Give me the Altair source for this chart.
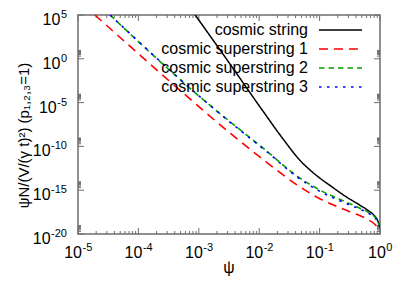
import altair as alt
import pandas as pd

# ---------------- data (log10 units) ----------------
series_names = ["cosmic string", "cosmic superstring 1",
                "cosmic superstring 2", "cosmic superstring 3"]

black_lpsi = [-3.06, -2.53, -1.95, -1.6, -1.33, -1.15, -0.99, -0.83, -0.55, -0.3, -0.2, -0.1, -0.05, 0.0]
black_lval = [5.0, -0.14, -5.85, -9.2, -11.55, -12.75, -13.65, -14.45, -15.8, -16.85, -17.3, -17.85, -18.3, -19.2]

red_lpsi = [-4.72, -3.26, -2.48, -1.99, -1.33, -0.99, -0.73, -0.5, -0.3, -0.2, -0.1, -0.05, 0.0]
red_lval = [5.0, -3.9, -8.5, -11.2, -14.6, -16.0, -16.8, -17.45, -18.0, -18.35, -18.8, -19.15, -19.7]

green_lpsi = [-4.47, -2.86, -2.48, -1.90, -1.33, -0.99, -0.53, -0.3, -0.2, -0.1, -0.05, 0.0]
green_lval = [5.0, -5.05, -7.2, -10.4, -13.6, -15.0, -16.45, -17.15, -17.5, -17.95, -18.4, -19.2]

blue_lpsi = [-4.47, -2.86, -2.48, -1.90, -1.33, -0.99, -0.53, -0.3, -0.2, -0.1, -0.05, 0.0]
blue_lval = [5.0, -5.05, -7.25, -10.45, -13.7, -15.15, -16.6, -17.25, -17.6, -18.05, -18.45, -19.25]

x_tick_exps = ["-5", "-4", "-3", "-2", "-1", "0"]
y_tick_exps = ["-20", "-15", "-10", "-5", "0", "5"]

x_title = "ψ"
y_title = "ψN/(V/(γ t)²) (p₁,₂,₃=1)"

# ---------------- styling ----------------
W, H = 302, 219
FONT = "Liberation Sans"
GRAY = "#6e6e6e"
colors = ["#000000", "#ff0000", "#00a000", "#0000ff"]
dashes = [[1, 0], [9, 6], [5.5, 4], [2.5, 5.5]]
widths = [1.5, 1.6, 1.6, 1.6]

xs = alt.Scale(type="log", domain=[1e-5, 1], nice=False)
ys = alt.Scale(type="log", domain=[1e-20, 1e5], nice=False)

layers = []

# ---------------- tick marks (inward, mirrored) ----------------
x_major = [10.0 ** int(e) for e in x_tick_exps]
x_minor = [m * 10.0 ** k for k in range(-5, 0) for m in range(2, 10)]
y_major = [10.0 ** int(e) for e in y_tick_exps]
y_minor = [m * 10.0 ** int(e) for e in y_tick_exps[:-1] for m in range(2, 10)]

def xticks(vals, length):
    d = pd.DataFrame({"v": vals})
    base = alt.Chart(d).mark_rule(color=GRAY, strokeWidth=1)
    bot = base.encode(x=alt.X("v:Q", scale=xs, axis=None),
                      y=alt.value(H), y2=alt.value(H - length))
    top = base.encode(x=alt.X("v:Q", scale=xs, axis=None),
                      y=alt.value(0), y2=alt.value(length))
    return [bot, top]

def yticks(vals, length):
    d = pd.DataFrame({"v": vals})
    base = alt.Chart(d).mark_rule(color=GRAY, strokeWidth=1)
    left = base.encode(y=alt.Y("v:Q", scale=ys, axis=None),
                       x=alt.value(0), x2=alt.value(length))
    right = base.encode(y=alt.Y("v:Q", scale=ys, axis=None),
                        x=alt.value(W), x2=alt.value(W - length))
    return [left, right]

layers += xticks(x_major, 6) + xticks(x_minor, 3)
layers += yticks(y_major, 6) + yticks(y_minor, 3)

# ---------------- curves ----------------
curve_data = [(black_lpsi, black_lval), (red_lpsi, red_lval),
              (green_lpsi, green_lval), (blue_lpsi, blue_lval)]
for i, (lp, lv) in enumerate(curve_data):
    d = pd.DataFrame({"psi": [10.0 ** v for v in lp],
                      "val": [10.0 ** v for v in lv],
                      "series": series_names[i]})
    layers.append(
        alt.Chart(d).mark_line(color=colors[i], strokeWidth=widths[i],
                               strokeDash=dashes[i], clip=True,
                               interpolate="monotone")
        .encode(x=alt.X("psi:Q", scale=xs, axis=None),
                y=alt.Y("val:Q", scale=ys, axis=None))
    )

# ---------------- tick labels ----------------
BASE_FS, EXP_FS = 16, 11
DIG, HYPH = 6.12, 3.66  # glyph widths for the exponent font

def exp_width(s):
    return sum(HYPH if c == "-" else DIG for c in s)

for e in x_tick_exps:
    v = 10.0 ** int(e)
    we = exp_width(e)
    dx = (17.8 + we) / 2 - we
    d = pd.DataFrame({"v": [v], "b": ["10"], "e": [e]})
    layers.append(alt.Chart(d).mark_text(font=FONT, fontSize=BASE_FS, align="right",
                                         baseline="alphabetic", dx=dx, color="#000")
                  .encode(x=alt.X("v:Q", scale=xs, axis=None), y=alt.value(H + 24),
                          text="b:N"))
    layers.append(alt.Chart(d).mark_text(font=FONT, fontSize=EXP_FS, align="left",
                                         baseline="alphabetic", dx=dx + 0.5, color="#000")
                  .encode(x=alt.X("v:Q", scale=xs, axis=None), y=alt.value(H + 17),
                          text="e:N"))

for e in y_tick_exps:
    v = 10.0 ** int(e)
    we = exp_width(e)
    d = pd.DataFrame({"v": [v], "b": ["10"], "e": [e]})
    layers.append(alt.Chart(d).mark_text(font=FONT, fontSize=BASE_FS, align="right",
                                         baseline="alphabetic", dy=10, color="#000")
                  .encode(y=alt.Y("v:Q", scale=ys, axis=None), x=alt.value(-11 - we - 0.5),
                          text="b:N"))
    layers.append(alt.Chart(d).mark_text(font=FONT, fontSize=EXP_FS, align="right",
                                         baseline="alphabetic", dy=3, color="#000")
                  .encode(y=alt.Y("v:Q", scale=ys, axis=None), x=alt.value(-11),
                          text="e:N"))

# ---------------- axis titles ----------------
layers.append(alt.Chart(pd.DataFrame({"t": [x_title]})).mark_text(
    font=FONT, fontSize=16, align="center", baseline="alphabetic", color="#000")
    .encode(x=alt.value(W / 2), y=alt.value(H + 39), text="t:N"))
layers.append(alt.Chart(pd.DataFrame({"t": [y_title]})).mark_text(
    font=FONT, fontSize=15, align="center", baseline="middle", angle=270, color="#000")
    .encode(x=alt.value(-54), y=alt.value(H / 2 + 11), text="t:N"))

# ---------------- legend ----------------
for i, name in enumerate(series_names):
    ry = 15 + 19 * i
    layers.append(alt.Chart(pd.DataFrame({"t": [name]})).mark_text(
        font=FONT, fontSize=16, align="right", baseline="middle", color="#000")
        .encode(x=alt.value(230), y=alt.value(ry), text="t:N"))
    layers.append(alt.Chart(pd.DataFrame({"t": [name]})).mark_rule(
        color=colors[i], strokeWidth=widths[i], strokeDash=dashes[i])
        .encode(x=alt.value(241), x2=alt.value(284), y=alt.value(ry)))

chart = alt.layer(*layers).properties(
    width=W, height=H,
    autosize=alt.AutoSizeParams(type="none"),
    padding={"left": 70, "top": 7, "right": 21, "bottom": 44},
    background="white",
).configure_view(stroke=GRAY, strokeWidth=1.5)

chart.save("out.html", embed_options={"renderer": "svg", "actions": False})
